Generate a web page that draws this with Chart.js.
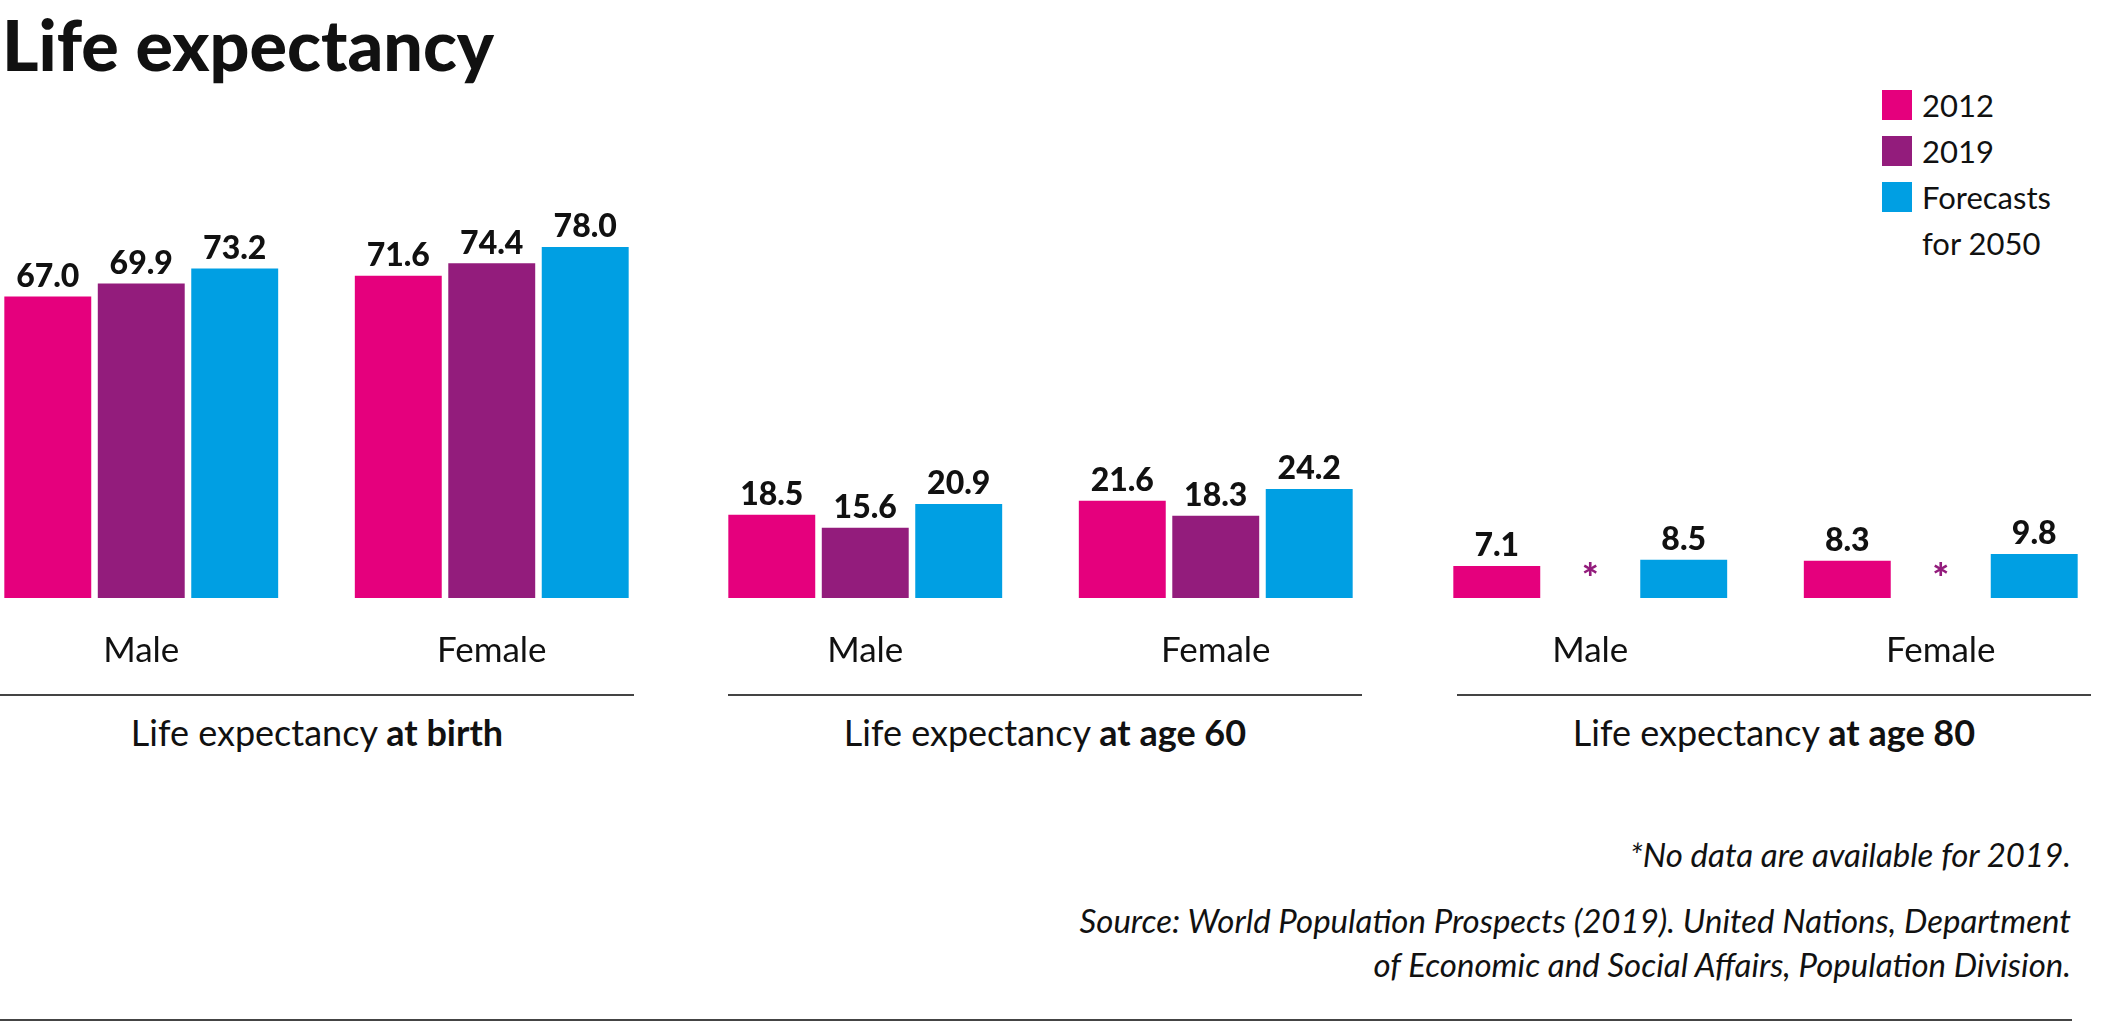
<!DOCTYPE html>
<html>
<head>
<meta charset="utf-8">
<script src="https://cdn.jsdelivr.net/npm/chart.js@4"></script>
<style>
  body { margin: 0; background: #fff; font-family: Lato, sans-serif; color: #111; }
  #page { position: relative; width: 2109px; height: 1023px; overflow: hidden; }
  .abs { position: absolute; }
  h1 { position: absolute; left: 2px; top: 2px; margin: 0; font-size: 70px; font-weight: 900; }
  .panel { position: absolute; top: 166px; width: 701px; height: 530px; }
  .rule { position: absolute; height: 0; border-top: 2px solid #444; }
  .plabel { position: absolute; width: 634px; text-align: center; top: 710px; font-size: 36px; }
  .legend div { display: flex; align-items: center; font-size: 31px; height: 46px; }
  .sw { width: 30px; height: 30px; margin-right: 10px; }
</style>
</head>
<body>
<div id="page">
  <h1>Life expectancy</h1>
  <div class="abs legend" style="left:1882px;top:82px">
    <div><span class="sw" style="background:#e5007d"></span>2012</div>
    <div><span class="sw" style="background:#931c7c"></span>2019</div>
    <div><span class="sw" style="background:#009fe3"></span>Forecasts</div>
    <div><span class="sw"></span>for 2050</div>
  </div>
  <div class="panel" style="left:-34px"><canvas id="c0"></canvas></div>
  <div class="panel" style="left:690px"><canvas id="c1"></canvas></div>
  <div class="panel" style="left:1415px"><canvas id="c2"></canvas></div>
  <div class="rule" style="left:0;width:634px;top:694px"></div>
  <div class="rule" style="left:728px;width:634px;top:694px"></div>
  <div class="rule" style="left:1457px;width:634px;top:694px"></div>
  <div class="plabel" style="left:0">Life expectancy <b>at birth</b></div>
  <div class="plabel" style="left:728px">Life expectancy <b>at age 60</b></div>
  <div class="plabel" style="left:1457px">Life expectancy <b>at age 80</b></div>
  <div class="abs" style="right:38px;top:832px;font-style:italic;font-size:33px;text-align:right;line-height:44px">
    *No data are available for 2019.<br>
    <div style="margin-top:22px">Source: World Population Prospects (2019). United Nations, Department<br>of Economic and Social Affairs, Population Division.</div>
  </div>
  <div class="rule" style="left:0;width:2072px;top:1019px"></div>
</div>
<script>
const categories = ['Male', 'Female'];
const v2012 = [[67.0, 71.6], [18.5, 21.6], [7.1, 8.3]];
const v2019 = [[69.9, 74.4], [15.6, 18.3], [null, null]];
const v2050 = [[73.2, 78.0], [20.9, 24.2], [8.5, 9.8]];
const colors = ['#e5007d', '#931c7c', '#009fe3'];

// value labels above bars, asterisk where 2019 is missing
const valueLabels = {
    id: 'valueLabels',
    afterDatasetsDraw(chart) {
        const ctx = chart.ctx;
        const base = chart.scales.y.getPixelForValue(0);
        ctx.save();
        ctx.textAlign = 'center';
        chart.data.datasets.forEach((ds, i) => {
            chart.getDatasetMeta(i).data.forEach((bar, j) => {
                const v = ds.data[j];
                if (v === null) {
                    ctx.fillStyle = colors[1];
                    ctx.font = '900 40px Lato';
                    ctx.textBaseline = 'middle';
                    ctx.fillText('*', bar.x, base - 18);
                } else {
                    ctx.fillStyle = '#111';
                    ctx.font = '900 32px Lato';
                    ctx.textBaseline = 'bottom';
                    ctx.fillText(v.toFixed(1), bar.x, bar.y - 4);
                }
            });
        });
        ctx.restore();
    }
};

for (let p = 0; p < 3; p++) {
    new Chart(document.getElementById('c' + p), {
        type: 'bar',
        data: {
            labels: categories,
            datasets: [v2012[p], v2019[p], v2050[p]].map((d, i) => ({
                data: d,
                backgroundColor: colors[i],
                categoryPercentage: 0.8,
                barPercentage: 0.93
            }))
        },
        options: {
            responsive: true,
            maintainAspectRatio: false,
            animation: false,
            layout: { padding: 0 },
            plugins: { legend: { display: false }, tooltip: { enabled: false } },
            scales: {
                y: { display: false, min: 0, max: 96 },
                x: {
                    grid: { display: false },
                    border: { display: false },
                    ticks: { color: '#111', padding: 24, font: { family: 'Lato', size: 35 } }
                }
            }
        },
        plugins: [valueLabels]
    });
}
</script>
</body>
</html>
